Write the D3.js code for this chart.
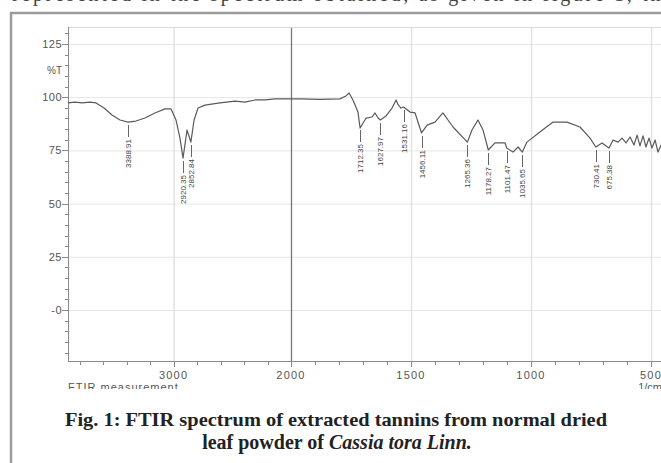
<!DOCTYPE html>
<html>
<head>
<meta charset="utf-8">
<script src="https://cdn.jsdelivr.net/npm/d3@7"></script>
<style>
  html, body { margin: 0; padding: 0; background: #fff; }
  svg { display: block; }
</style>
</head>
<body>
<div id="chart"></div>
<script>
// spectrum: wavenumber (1/cm) and %T
var wavenumbers = [3900, 3840, 3781, 3713, 3661, 3593, 3525, 3457, 3389, 3321, 3244, 3159, 3074, 3022,
  2980, 2946, 2920, 2886, 2853, 2826, 2792, 2733, 2605, 2477, 2392, 2307, 2222, 2136, 2051, 2000,
  1962, 1879, 1796, 1771, 1758, 1742, 1721, 1712, 1687, 1662, 1650, 1637, 1628, 1604, 1579, 1562,
  1554, 1542, 1531, 1504, 1483, 1456, 1433, 1400, 1367, 1325, 1265, 1246, 1221, 1200, 1178, 1150,
  1108, 1101, 1075, 1054, 1036, 1017, 963, 908, 850, 796, 754, 730, 704, 675, 658, 637, 621, 604,
  587, 571, 558, 546, 533, 521, 508, 496, 483, 471, 458, 442, 420, 400];
var transmittance = [97.3, 97.7, 97.3, 97.7, 97.3, 94.9, 91.6, 89.3, 88.3, 88.8, 90.2, 92.6, 94.5, 94.5,
  89.3, 80.8, 71.4, 84.6, 78.9, 89.3, 94.9, 96.3, 97.3, 98.2, 97.7, 98.7, 98.7, 99.2, 99.2, 99.2,
  99.2, 99.0, 99.2, 100.6, 102.0, 98.7, 93.0, 85.5, 90.2, 90.7, 92.6, 90.2, 89.3, 91.2, 94.9, 98.7,
  96.5, 94.9, 95.4, 93.0, 92.6, 83.2, 86.9, 88.3, 92.6, 86.0, 78.9, 84.6, 89.3, 84.6, 75.2, 78.5,
  78.5, 76.1, 74.2, 76.6, 74.2, 78.9, 83.6, 88.3, 88.3, 86.0, 80.8, 76.6, 78.5, 76.1, 79.9, 78.9, 80.8, 78.5,
  81.3, 77.5, 82.2, 77.1, 81.8, 76.6, 80.8, 76.1, 79.9, 74.2, 77.5, 72.8, 76.0, 73.0];

var peakWavenumbers = [3388.91, 2920.35, 2852.84, 1712.35, 1627.97, 1531.16, 1456.11, 1265.36,
  1178.27, 1101.47, 1035.65, 730.41, 675.38];
var peakLabels = ["3388.91", "2920.35", "2852.84", "1712.35", "1627.97", "1531.16", "1456.11", "1265.36",
  "1178.27", "1101.47", "1035.65", "730.41", "675.38"];

var xTickValues = [3000, 2000, 1500, 1000, 500];
var yTickValues = [0, 25, 50, 75, 100, 125];
var yTickLabels = ["-0", "25", "50", "75", "100", "125"];

var width = 661, height = 463;
var plot = {left: 68, top: 27, bottom: 361, right: 675};
var axisFont = {family: 'Liberation Sans', size: '11px', color: '#555'};

var svg = d3.select('#chart')
  .append('svg')
  .attr('width', width)
  .attr('height', height)
  .style('background', '#fff');

// FTIR plots use a compressed scale above 2000 1/cm
var xScale = d3.scaleLinear()
  .domain([3900, 2000, 400])
  .range([plot.left, 291, plot.right]);

var yScale = d3.scaleLinear()
  .domain([0, 125])
  .range([310, 44]);

// cut off line of the page text above the figure
svg.append('text')
  .attr('x', 12).attr('y', 1)
  .attr('textLength', 660).attr('lengthAdjust', 'spacing')
  .style('font-family', 'Liberation Serif').style('font-size', '20px').attr('fill', '#444')
  .text('represented in the spectrum obtained, as given in figure 1, the');

// outer frame
svg.append('rect')
  .attr('x', 11).attr('y', 13)
  .attr('width', 700).attr('height', 470)
  .attr('fill', 'none').attr('stroke', '#9a9a9a').attr('stroke-width', 2.5);

// grid
var grid = svg.append('g');
grid.selectAll('line.h').data(yTickValues)
  .enter().append('line')
  .attr('x1', plot.left).attr('x2', width)
  .attr('y1', function (d) { return yScale(d) + 0.5; })
  .attr('y2', function (d) { return yScale(d) + 0.5; })
  .attr('stroke', '#e6e6e6');
grid.selectAll('line.v').data(xTickValues)
  .enter().append('line')
  .attr('x1', function (d) { return xScale(d) + 0.5; })
  .attr('x2', function (d) { return xScale(d) + 0.5; })
  .attr('y1', plot.top).attr('y2', plot.bottom)
  .attr('stroke', function (d) { return d === 2000 ? '#777' : '#e2e2e2'; })
  .attr('stroke-width', function (d) { return d === 2000 ? 1.3 : 1.5; });
grid.append('line')
  .attr('x1', plot.left).attr('x2', width)
  .attr('y1', plot.top + 0.5).attr('y2', plot.top + 0.5)
  .attr('stroke', '#d8d8d8');

// y axis with minor ticks every 5
var yAxis = svg.append('g');
yAxis.append('line')
  .attr('x1', plot.left + 0.5).attr('x2', plot.left + 0.5)
  .attr('y1', plot.top).attr('y2', plot.bottom)
  .attr('stroke', '#8a8a8a');
yAxis.selectAll('line.minor').data(d3.range(-20, 131, 5))
  .enter().append('line')
  .attr('x1', function (d) { return d % 25 === 0 ? plot.left - 6 : plot.left - 3; })
  .attr('x2', plot.left)
  .attr('y1', function (d) { return Math.round(yScale(d)) + 0.5; })
  .attr('y2', function (d) { return Math.round(yScale(d)) + 0.5; })
  .attr('stroke', '#8a8a8a');
yAxis.selectAll('text').data(yTickValues)
  .enter().append('text')
  .attr('x', plot.left - 6)
  .attr('y', function (d) { return yScale(d) + 4; })
  .attr('text-anchor', 'end')
  .style('font-family', axisFont.family).style('font-size', axisFont.size).style('letter-spacing', '0.5px')
  .attr('fill', axisFont.color)
  .text(function (d, i) { return yTickLabels[i]; });
svg.append('text')
  .attr('x', plot.left - 6).attr('y', 74)
  .attr('text-anchor', 'end')
  .style('font-family', axisFont.family).style('font-size', '10px').attr('fill', axisFont.color)
  .text('%T');

// x axis
var xAxis = svg.append('g');
xAxis.append('line')
  .attr('x1', plot.left).attr('x2', width)
  .attr('y1', plot.bottom + 0.5).attr('y2', plot.bottom + 0.5)
  .attr('stroke', '#8a8a8a');
var xMinor = d3.range(3800, 2000, -200).concat(d3.range(2000, 399, -100));
xAxis.selectAll('line.t').data(xMinor)
  .enter().append('line')
  .attr('x1', function (d) { return Math.round(xScale(d)) + 0.5; })
  .attr('x2', function (d) { return Math.round(xScale(d)) + 0.5; })
  .attr('y1', plot.bottom)
  .attr('y2', function (d) { return xTickValues.indexOf(d) >= 0 ? plot.bottom + 6 : plot.bottom + 4; })
  .attr('stroke', '#8a8a8a');
xAxis.selectAll('text').data(xTickValues)
  .enter().append('text')
  .attr('x', function (d) { return xScale(d); })
  .attr('y', 379)
  .attr('text-anchor', 'middle')
  .style('font-family', axisFont.family).style('font-size', axisFont.size).style('letter-spacing', '1.2px')
  .attr('fill', axisFont.color)
  .text(function (d) { return d; });

// footer of the instrument printout, half hidden under the caption
svg.append('clipPath').attr('id', 'foot')
  .append('rect').attr('x', 0).attr('y', 380).attr('width', width).attr('height', 9);
var foot = svg.append('g').attr('clip-path', 'url(#foot)');
foot.append('text')
  .attr('x', 68).attr('y', 391)
  .style('font-family', axisFont.family).style('font-size', '11px').style('letter-spacing', '1px')
  .attr('fill', axisFont.color)
  .text('FTIR measurement');
foot.append('text')
  .attr('x', 662).attr('y', 391)
  .attr('text-anchor', 'end')
  .style('font-family', axisFont.family).style('font-size', '11px').attr('fill', axisFont.color)
  .text('1/cm');

// spectrum
var spectrum = wavenumbers.map(function (w, i) { return [w, transmittance[i]]; });
var line = d3.line()
  .x(function (d) { return xScale(d[0]); })
  .y(function (d) { return yScale(d[1]); });
svg.append('path')
  .datum(spectrum)
  .attr('fill', 'none')
  .attr('stroke', '#5a5a5a')
  .attr('stroke-width', 1.2)
  .attr('stroke-linejoin', 'round')
  .attr('d', line);

// peak labels
function valueAt(w) {
  for (var i = 0; i < wavenumbers.length - 1; i++) {
    var a = wavenumbers[i], b = wavenumbers[i + 1];
    if (w <= a && w >= b) {
      var t = (a - w) / (a - b);
      return transmittance[i] + t * (transmittance[i + 1] - transmittance[i]);
    }
  }
  return transmittance[transmittance.length - 1];
}
var peaks = svg.append('g').selectAll('g').data(peakWavenumbers)
  .enter().append('g')
  .attr('transform', function (d) {
    return 'translate(' + Math.round(xScale(d)) + ',' + Math.round(yScale(valueAt(d))) + ')';
  });
peaks.append('line')
  .attr('x1', 0.5).attr('x2', 0.5)
  .attr('y1', 3).attr('y2', 15)
  .attr('stroke', '#666');
peaks.append('text')
  .attr('transform', 'translate(3,17) rotate(-90)')
  .attr('text-anchor', 'end')
  .style('font-family', 'Liberation Sans').style('font-size', '8px').attr('fill', '#444')
  .text(function (d, i) { return peakLabels[i]; });

// caption
svg.append('text')
  .attr('x', 336).attr('y', 426)
  .attr('text-anchor', 'middle')
  .attr('textLength', 542).attr('lengthAdjust', 'spacingAndGlyphs')
  .style('font-family', 'Liberation Serif').style('font-size', '19px').style('font-weight', 'bold')
  .attr('fill', '#222')
  .text('Fig. 1: FTIR spectrum of extracted tannins from normal dried');
var cap2 = svg.append('text')
  .attr('x', 337).attr('y', 449)
  .attr('text-anchor', 'middle')
  .style('font-family', 'Liberation Serif').style('font-size', '20px').style('font-weight', 'bold')
  .attr('fill', '#222');
cap2.append('tspan').text('leaf powder of ');
cap2.append('tspan').style('font-style', 'italic').text('Cassia tora Linn.');
</script>
</body>
</html>
